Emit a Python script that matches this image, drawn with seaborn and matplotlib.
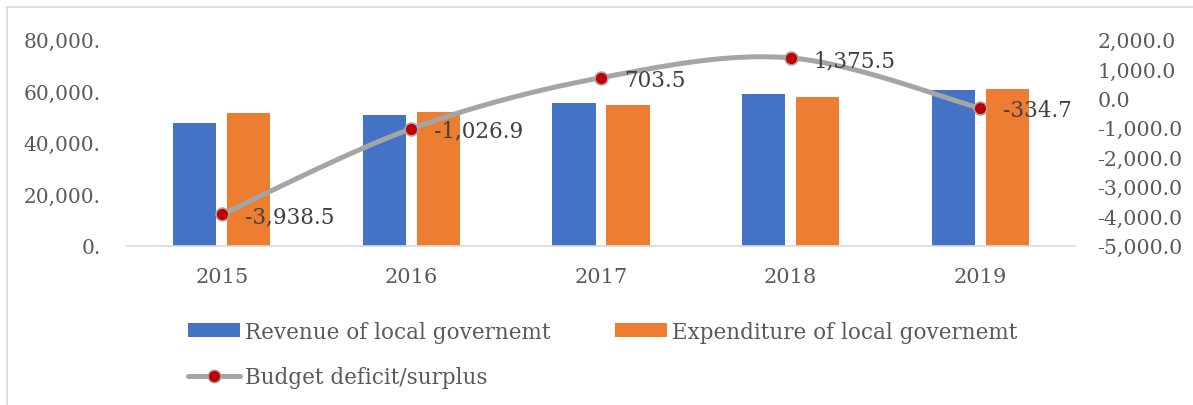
import numpy as np
import pandas as pd
import matplotlib
matplotlib.use("Agg")
import matplotlib.pyplot as plt
import seaborn as sns
from matplotlib.patches import Patch, Rectangle
from matplotlib.lines import Line2D

years = ["2015", "2016", "2017", "2018", "2019"]
revenue = [47500, 50900, 55200, 58950, 60460]
expenditure = [51438, 51927, 54497, 57575, 60795]
balance = [-3938.5, -1026.9, 703.5, 1375.5, -334.7]
balance_labels = ["-3,938.5", "-1,026.9", "703.5", "1,375.5", "-334.7"]
left_ticks = [0, 20000, 40000, 60000, 80000]
left_ticklabels = ["0.", "20,000.", "40,000.", "60,000.", "80,000."]
right_ticks = [-5000, -4000, -3000, -2000, -1000, 0, 1000, 2000]
right_ticklabels = ["-5,000.0", "-4,000.0", "-3,000.0", "-2,000.0",
                    "-1,000.0", "0.0", "1,000.0", "2,000.0"]

sns.set_theme(style="white")
FONT = ["DejaVu Serif"]
plt.rcParams["font.family"] = FONT
TXT = "#595959"
BLUE = "#4472C4"
ORANGE = "#ED7D31"
GRAY = "#A5A5A5"
RED = "#C00000"

df = pd.DataFrame({
    "year": years * 2,
    "value": revenue + expenditure,
    "series": ["Revenue of local governemt"] * 5 + ["Expenditure of local governemt"] * 5,
})

fig = plt.figure(figsize=(11.93, 4.06), dpi=100)
ax = fig.add_axes([127 / 1193, 1 - 246.7 / 406, (1075 - 127) / 1193, (246.7 - 40.5) / 406])

sns.barplot(data=df, x="year", y="value", hue="series", ax=ax,
            palette=[BLUE, ORANGE], width=0.57, gap=0.2, legend=False,
            saturation=1, edgecolor="none")
ax.set_ylim(0, 80000)
ax.set_xlim(-0.5, 4.5)
ax.set_yticks(left_ticks)
ax.set_yticklabels(left_ticklabels)
ax.set_xlabel("")
ax.set_ylabel("")
for s in ["top", "left", "right"]:
    ax.spines[s].set_visible(False)
ax.spines["bottom"].set_color("#D9D9D9")
ax.spines["bottom"].set_linewidth(1.2)
ax.tick_params(axis="y", length=0, pad=19, labelsize=14.5, labelcolor=TXT)
ax.tick_params(axis="x", length=0, pad=15, labelsize=15, labelcolor=TXT)

ax2 = ax.twinx()
ax2.set_ylim(-5000, 2000)
ax2.set_yticks(right_ticks)
ax2.set_yticklabels(right_ticklabels)
for s in ["top", "left", "right", "bottom"]:
    ax2.spines[s].set_visible(False)
ax2.tick_params(axis="y", length=0, pad=16, labelsize=14.8, labelcolor=TXT)

# smoothed (Catmull-Rom) line through the data points, like Excel's smoothed line
xs = np.arange(len(balance), dtype=float)
ys = np.array(balance, dtype=float)
px = np.concatenate([[xs[0]], xs, [xs[-1]]])
py = np.concatenate([[ys[0]], ys, [ys[-1]]])
cx, cy = [], []
t = np.linspace(0, 1, 40)
for i in range(1, len(px) - 2):
    p0, p1, p2, p3 = (px[i - 1], py[i - 1]), (px[i], py[i]), (px[i + 1], py[i + 1]), (px[i + 2], py[i + 2])
    c1 = (p1[0] + (p2[0] - p0[0]) / 6, p1[1] + (p2[1] - p0[1]) / 6)
    c2 = (p2[0] - (p3[0] - p1[0]) / 6, p2[1] - (p3[1] - p1[1]) / 6)
    bx = (1 - t) ** 3 * p1[0] + 3 * (1 - t) ** 2 * t * c1[0] + 3 * (1 - t) * t ** 2 * c2[0] + t ** 3 * p2[0]
    by = (1 - t) ** 3 * p1[1] + 3 * (1 - t) ** 2 * t * c1[1] + 3 * (1 - t) * t ** 2 * c2[1] + t ** 3 * p2[1]
    cx.extend(bx)
    cy.extend(by)
ax2.plot(cx, cy, color=GRAY, lw=3.6, solid_capstyle="round", zorder=3)
sns.scatterplot(x=xs, y=ys, ax=ax2, color=RED, s=85, edgecolor=GRAY,
                linewidth=1.2, zorder=4, legend=False)
for x, y, lab in zip(xs, ys, balance_labels):
    ax2.annotate(lab, (x, y), xytext=(16.5, -1.5), textcoords="offset points",
                 ha="left", va="center", fontsize=15.5, color="#404040")

handles = [
    Patch(facecolor=BLUE, edgecolor="none", label="Revenue of local governemt"),
    Line2D([0], [0], color=GRAY, lw=3.6, marker="o", markersize=9,
           markerfacecolor=RED, markeredgecolor=GRAY, label="Budget deficit/surplus"),
    Patch(facecolor=ORANGE, edgecolor="none", label="Expenditure of local governemt"),
]
leg = fig.legend(handles=handles, ncol=2, loc="center left",
                 bbox_to_anchor=(188 / 1193, 1 - 355.5 / 406), frameon=False,
                 fontsize=15.5, handlelength=2.42, handleheight=0.6,
                 handletextpad=0.23, columnspacing=3.0, labelspacing=1.1,
                 borderpad=0, borderaxespad=0)
for txt in leg.get_texts():
    txt.set_color(TXT)

fig.patches.append(Rectangle((7 / 1193, -0.1), 1.2, 1 - 8 / 406 + 0.1,
                             transform=fig.transFigure, fill=False,
                             edgecolor="#D9D9D9", lw=1.2, zorder=0))

fig.savefig("out.png", dpi=100)
